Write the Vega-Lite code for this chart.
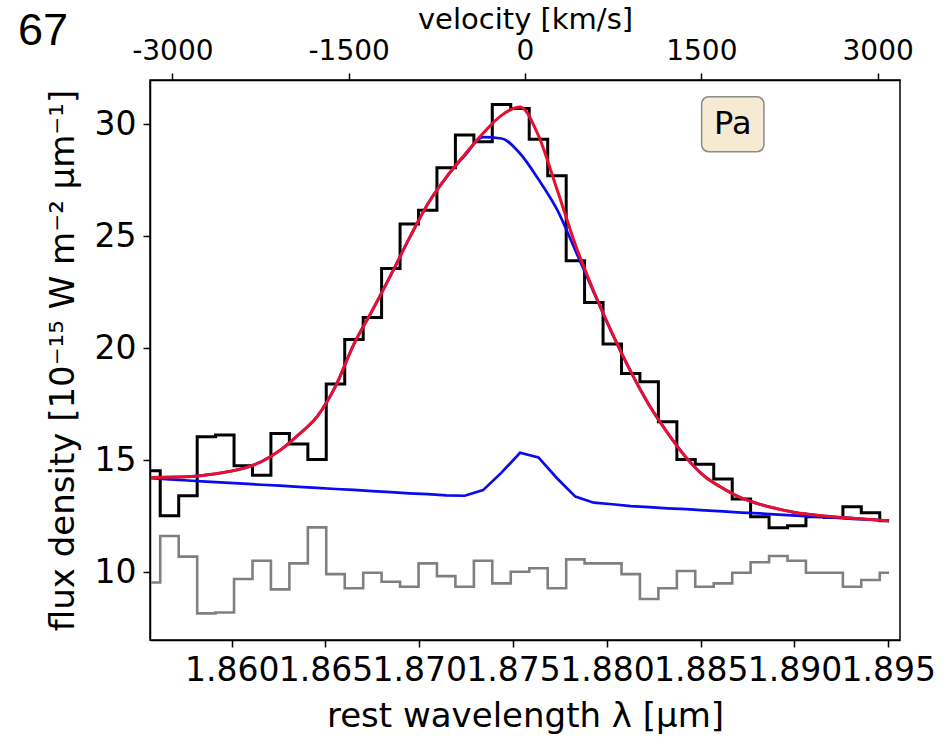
{
  "$schema": "https://vega.github.io/schema/vega-lite/v6.json",
  "width": 750,
  "height": 560,
  "autosize": {"type": "none"},
  "padding": {"left": 150, "top": 80, "right": 51, "bottom": 97},
  "background": "white",
  "title": {"text": "67", "anchor": "start", "frame": "group", "font": "Liberation Sans", "fontSize": 45, "fontWeight": "normal", "color": "black", "baseline": "alphabetic", "dx": -132, "dy": 85, "offset": 0},
  "datasets": {
    "spec": [
      {"lam": 1.85570, "obs": 14.54, "noise": 9.55, "red": 14.24, "broad": 14.24, "narrow": 14.20},
      {"lam": 1.85668, "obs": 12.53, "noise": 11.62, "red": 14.25, "broad": 14.25, "narrow": 14.15},
      {"lam": 1.85767, "obs": 13.42, "noise": 10.70, "red": 14.27, "broad": 14.27, "narrow": 14.10},
      {"lam": 1.85865, "obs": 16.05, "noise": 8.17, "red": 14.35, "broad": 14.35, "narrow": 14.05},
      {"lam": 1.85963, "obs": 16.13, "noise": 8.21, "red": 14.47, "broad": 14.47, "narrow": 14.01},
      {"lam": 1.86062, "obs": 14.76, "noise": 9.70, "red": 14.64, "broad": 14.64, "narrow": 13.96},
      {"lam": 1.86160, "obs": 14.34, "noise": 10.52, "red": 14.95, "broad": 14.95, "narrow": 13.91},
      {"lam": 1.86258, "obs": 16.20, "noise": 9.24, "red": 15.45, "broad": 15.45, "narrow": 13.87},
      {"lam": 1.86357, "obs": 15.73, "noise": 10.40, "red": 16.15, "broad": 16.15, "narrow": 13.82},
      {"lam": 1.86455, "obs": 15.04, "noise": 12.01, "red": 16.95, "broad": 16.95, "narrow": 13.77},
      {"lam": 1.86553, "obs": 18.41, "noise": 9.92, "red": 18.30, "broad": 18.30, "narrow": 13.72},
      {"lam": 1.86652, "obs": 20.40, "noise": 9.29, "red": 20.20, "broad": 20.20, "narrow": 13.68},
      {"lam": 1.86750, "obs": 21.38, "noise": 9.98, "red": 21.70, "broad": 21.70, "narrow": 13.63},
      {"lam": 1.86848, "obs": 23.57, "noise": 9.58, "red": 23.27, "broad": 23.27, "narrow": 13.58},
      {"lam": 1.86947, "obs": 25.55, "noise": 9.36, "red": 24.92, "broad": 24.92, "narrow": 13.53},
      {"lam": 1.87045, "obs": 26.17, "noise": 10.40, "red": 26.44, "broad": 26.44, "narrow": 13.49},
      {"lam": 1.87143, "obs": 28.06, "noise": 9.83, "red": 27.63, "broad": 27.62, "narrow": 13.44},
      {"lam": 1.87242, "obs": 29.52, "noise": 9.36, "red": 28.65, "broad": 28.60, "narrow": 13.42},
      {"lam": 1.87340, "obs": 29.22, "noise": 10.52, "red": 29.60, "broad": 29.43, "narrow": 13.67},
      {"lam": 1.87438, "obs": 30.89, "noise": 9.51, "red": 30.40, "broad": 29.37, "narrow": 14.45},
      {"lam": 1.87537, "obs": 30.71, "noise": 10.03, "red": 30.78, "broad": 28.70, "narrow": 15.34},
      {"lam": 1.87635, "obs": 29.34, "noise": 10.18, "red": 29.50, "broad": 27.55, "narrow": 15.13},
      {"lam": 1.87734, "obs": 27.71, "noise": 9.29, "red": 27.10, "broad": 26.20, "narrow": 14.20},
      {"lam": 1.87832, "obs": 23.91, "noise": 10.58, "red": 24.63, "broad": 24.37, "narrow": 13.38},
      {"lam": 1.87930, "obs": 22.05, "noise": 10.40, "red": 22.55, "broad": 22.50, "narrow": 13.11},
      {"lam": 1.88029, "obs": 20.19, "noise": 10.40, "red": 20.67, "broad": 20.64, "narrow": 13.04},
      {"lam": 1.88127, "obs": 18.88, "noise": 9.92, "red": 18.97, "broad": 18.96, "narrow": 12.96},
      {"lam": 1.88225, "obs": 18.51, "noise": 8.81, "red": 17.47, "broad": 17.47, "narrow": 12.91},
      {"lam": 1.88324, "obs": 16.72, "noise": 9.29, "red": 16.22, "broad": 16.22, "narrow": 12.86},
      {"lam": 1.88422, "obs": 15.04, "noise": 10.06, "red": 15.13, "broad": 15.13, "narrow": 12.82},
      {"lam": 1.88520, "obs": 14.83, "noise": 9.36, "red": 14.29, "broad": 14.29, "narrow": 12.77},
      {"lam": 1.88619, "obs": 14.17, "noise": 9.51, "red": 13.75, "broad": 13.75, "narrow": 12.72},
      {"lam": 1.88717, "obs": 13.27, "noise": 9.98, "red": 13.32, "broad": 13.32, "narrow": 12.67},
      {"lam": 1.88815, "obs": 12.48, "noise": 10.45, "red": 13.04, "broad": 13.04, "narrow": 12.63},
      {"lam": 1.88914, "obs": 11.99, "noise": 10.73, "red": 12.83, "broad": 12.83, "narrow": 12.58},
      {"lam": 1.89012, "obs": 12.08, "noise": 10.52, "red": 12.66, "broad": 12.66, "narrow": 12.53},
      {"lam": 1.89110, "obs": 12.48, "noise": 9.98, "red": 12.56, "broad": 12.56, "narrow": 12.49},
      {"lam": 1.89209, "obs": 12.45, "noise": 9.98, "red": 12.48, "broad": 12.48, "narrow": 12.44},
      {"lam": 1.89307, "obs": 12.93, "noise": 9.36, "red": 12.42, "broad": 12.42, "narrow": 12.39},
      {"lam": 1.89405, "obs": 12.66, "noise": 9.66, "red": 12.36, "broad": 12.36, "narrow": 12.35},
      {"lam": 1.89504, "obs": 12.30, "noise": 9.98, "red": 12.30, "broad": 12.30, "narrow": 12.30}
    ],
    "vel": [{"v": -3000}, {"v": 3000}],
    "box": [{"x1": 1.88505, "x2": 1.88837, "y1": 28.78, "y2": 31.23, "tx": 1.88671, "ty": 30.0, "label": "Pa"}]
  },
  "layer": [
    {
      "data": {"name": "spec"},
      "encoding": {
        "x": {
          "field": "lam", "type": "quantitative",
          "scale": {"domain": [1.855645, 1.895624], "nice": false, "zero": false},
          "axis": {"orient": "bottom", "values": [1.86, 1.865, 1.87, 1.875, 1.88, 1.885, 1.89, 1.895], "format": ".3f", "title": "rest wavelength λ [μm]", "labelFontSize": 33, "titleFontSize": 34, "labelPadding": 7, "titlePadding": 12}
        }
      },
      "layer": [
        {
          "mark": {"type": "line", "interpolate": "step", "color": "#808080", "strokeWidth": 2.6},
          "encoding": {"y": {"field": "noise", "type": "quantitative", "scale": {"domain": [6.98, 31.98], "nice": false, "zero": false}, "axis": {"values": [10, 15, 20, 25, 30], "title": "flux density [10⁻¹⁵ W m⁻² μm⁻¹]", "labelFontSize": 33, "titleFontSize": 34, "labelPadding": 7, "titlePadding": 14}}}
        },
        {
          "mark": {"type": "line", "interpolate": "step", "color": "black", "strokeWidth": 3},
          "encoding": {"y": {"field": "obs", "type": "quantitative"}}
        },
        {
          "mark": {"type": "line", "interpolate": "linear", "color": "#0a0af0", "strokeWidth": 2.7},
          "encoding": {"y": {"field": "narrow", "type": "quantitative"}}
        },
        {
          "mark": {"type": "line", "interpolate": "monotone", "color": "#0a0af0", "strokeWidth": 2.7},
          "encoding": {"y": {"field": "broad", "type": "quantitative"}}
        },
        {
          "mark": {"type": "line", "interpolate": "monotone", "color": "#e8102c", "strokeWidth": 3},
          "encoding": {"y": {"field": "red", "type": "quantitative"}}
        },
        {
          "data": {"name": "box"},
          "mark": {"type": "rect", "fill": "#f7ead3", "stroke": "#8a8a8a", "strokeWidth": 1.5, "cornerRadius": 7},
          "encoding": {
            "x": {"field": "x1", "type": "quantitative"},
            "x2": {"field": "x2"},
            "y": {"field": "y1", "type": "quantitative"},
            "y2": {"field": "y2"}
          }
        },
        {
          "data": {"name": "box"},
          "mark": {"type": "text", "font": "DejaVu Sans", "fontSize": 32, "color": "black", "align": "center", "baseline": "middle"},
          "encoding": {
            "x": {"field": "tx", "type": "quantitative"},
            "y": {"field": "ty", "type": "quantitative"},
            "text": {"field": "label"}
          }
        }
      ]
    },
    {
      "data": {"name": "vel"},
      "mark": {"type": "point", "opacity": 0},
      "encoding": {
        "x": {
          "field": "v", "type": "quantitative",
          "scale": {"domain": [-3190, 3190], "nice": false, "zero": false},
          "axis": {"orient": "top", "values": [-3000, -1500, 0, 1500, 3000], "labelExpr": "'' + datum.value", "title": "velocity [km/s]", "labelFontSize": 28, "titleFontSize": 29, "labelPadding": 8, "titlePadding": 3}
        }
      }
    }
  ],
  "resolve": {"scale": {"x": "independent"}, "axis": {"x": "independent"}},
  "config": {
    "view": {"stroke": "black", "strokeWidth": 1.5},
    "axis": {
      "domainColor": "black", "domainWidth": 1.5, "tickColor": "black", "tickWidth": 1.5, "tickSize": 7,
      "labelColor": "black", "titleColor": "black", "labelFont": "DejaVu Sans", "titleFont": "DejaVu Sans",
      "labelFontSize": 31, "titleFontSize": 31, "titleFontWeight": "normal", "grid": false,
      "labelFlush": false, "labelOverlap": false
    }
  }
}
